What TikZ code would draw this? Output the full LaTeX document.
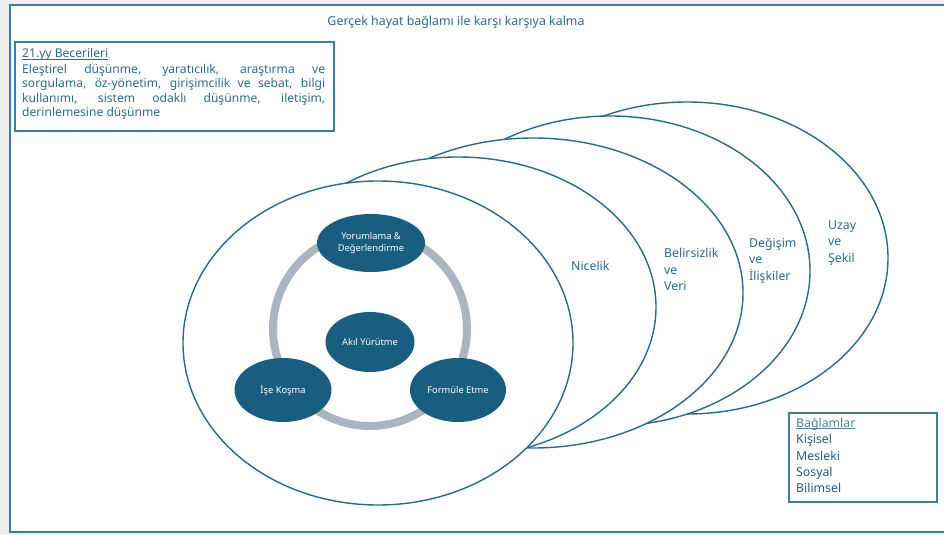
\documentclass[tikz,border=0pt]{standalone}
\usepackage{fontspec}
\setmainfont{Noto Sans}
\usetikzlibrary{shapes.geometric}

\definecolor{pagegray}{HTML}{EEEEEE}
\definecolor{frameblue}{HTML}{3D7EA0}
\definecolor{lineblue}{HTML}{2A6A8D}
\definecolor{txtblue}{HTML}{2E6B8C}
\definecolor{darktxt}{HTML}{285C7C}
\definecolor{nodefill}{HTML}{195E80}
\definecolor{ringgray}{HTML}{AAB5C1}

% thin underline set close to the baseline
\newcommand{\lowrule}[1]{\setbox0\hbox{#1}\rlap{\rule[-1.6pt]{\wd0}{0.7pt}}\box0}

\begin{document}
\begin{tikzpicture}[x=1pt,y=-1pt,
  area/.style={ellipse, draw=lineblue, line width=1.4pt, fill=white, inner sep=0pt},
  phase/.style={ellipse, fill=nodefill, inner sep=0pt, text=white,
    font=\fontsize{9.3}{11.5}\selectfont, align=center},
  lbl/.style={text=txtblue, inner sep=0pt, align=left, anchor=north west,
    font=\fontsize{12.3}{16.5}\selectfont},
  infobox/.style={draw=frameblue, line width=1.6pt, fill=white, inner sep=0pt, anchor=north west}
]
\useasboundingbox (0,0) rectangle (944,535);
\fill[pagegray] (0,0) rectangle (944,535);
\draw[frameblue, line width=2pt, fill=white] (10,5) rectangle (960,532);

% heading
\node[text=txtblue, inner sep=0pt, font=\fontsize{12.4}{14}\selectfont] (title) at (456,22)
  {Gerçek hayat bağlamı ile karşı karşıya kalma};

% content areas, from back to front
\node[area, minimum width=402pt, minimum height=312pt] (e5) at (687,258) {};
\node[area, minimum width=400pt, minimum height=310pt] (e4) at (610,271) {};
\node[area, minimum width=420pt, minimum height=310pt] (e3) at (533,293) {};
\node[area, minimum width=396pt, minimum height=300pt] (e2) at (458,307) {};
\node[area, minimum width=390pt, minimum height=324pt] (e1) at (378,343) {};

% process cycle
\draw[ringgray, line width=8pt] (370,329) circle [radius=97pt];
\node[phase, minimum width=108pt, minimum height=58pt] (interp) at (371,243)
  {Yorumlama \&\\Değerlendirme};
\node[phase, minimum width=89pt, minimum height=60pt] (reason) at (370,342) {Akıl Yürütme};
\node[phase, minimum width=97pt, minimum height=64pt] (employ) at (283,390) {İşe Koşma};
\node[phase, minimum width=96pt, minimum height=64pt] (formul) at (458,390) {Formüle Etme};

% content labels
\node[lbl, anchor=west] (quant) at (571,266) {Nicelik};
\node[lbl] (uncert) at (664,248) {Belirsizlik\\ve\\Veri};
\node[lbl] (change) at (749,238) {Değişim\\ve\\İlişkiler};
\node[lbl] (space) at (828,220.5) {Uzay\\ve\\Şekil};

% skills box
\node[infobox, minimum width=319pt, minimum height=89pt] (skills) at (14,41) {};
\node[text=txtblue, inner sep=0pt, anchor=north west, align=left,
  font=\fontsize{12.1}{14.2}\selectfont] (skilltext) at (22,48.5)
  {\lowrule{21.yy Becerileri}\\[1.6pt]
   \makebox[303pt][s]{Eleştirel düşünme, yaratıcılık, araştırma ve}\\
   \makebox[303pt][s]{sorgulama, öz-yönetim, girişimcilik ve sebat, bilgi}\\
   \makebox[303pt][s]{kullanımı, sistem odaklı düşünme, iletişim,}\\
   derinlemesine düşünme};

% contexts box
\node[infobox, minimum width=148pt, minimum height=89pt] (ctx) at (788,412) {};
\node[text=darktxt, inner sep=0pt, anchor=north west, align=left,
  font=\fontsize{12.3}{16.3}\selectfont] (ctxtext) at (796,418)
  {\textcolor{txtblue!85}{\lowrule{Bağlamlar}}\\Kişisel\\Mesleki\\Sosyal\\Bilimsel};
\end{tikzpicture}
\end{document}
